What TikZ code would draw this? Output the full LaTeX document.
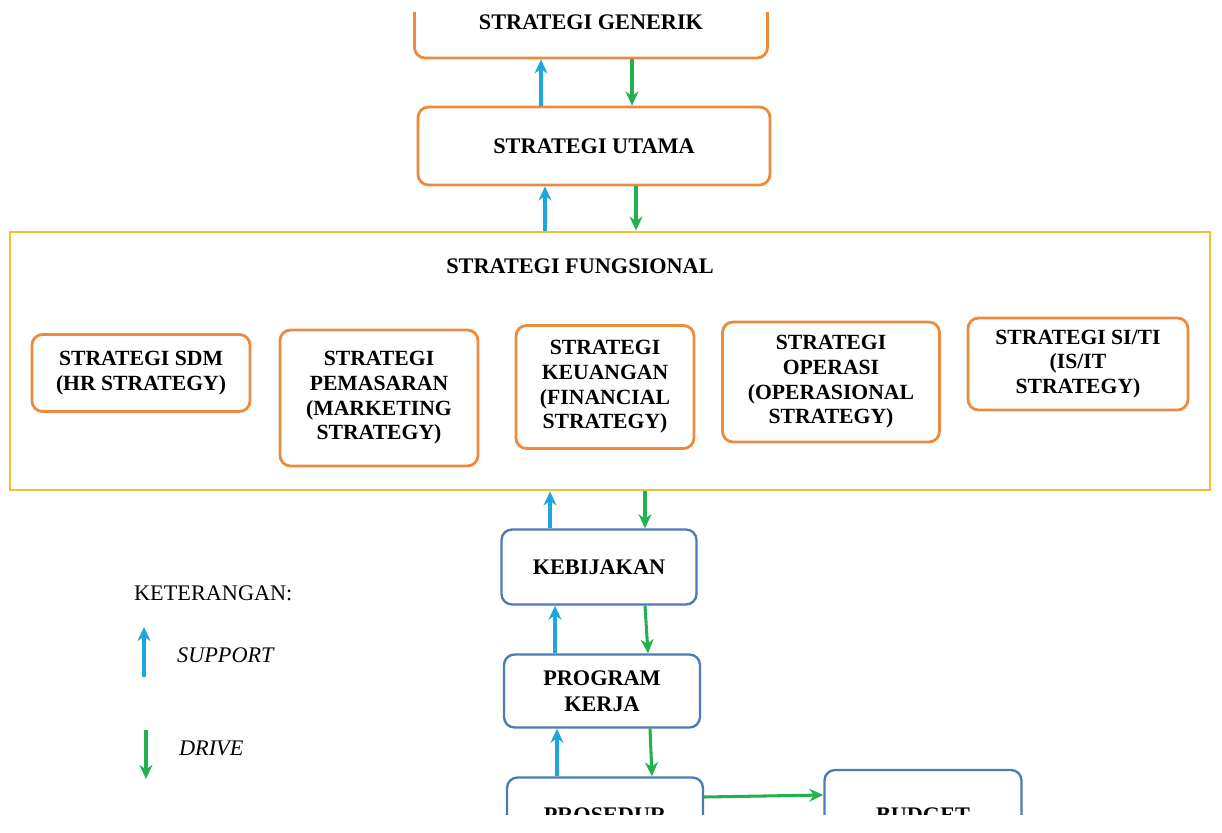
\documentclass[tikz,border=0pt]{standalone}
\usepackage{fontspec}
\setmainfont{Liberation Serif}
\usetikzlibrary{calc,arrows.meta}
\definecolor{supblue}{HTML}{1EA6E0}
\definecolor{drvgreen}{HTML}{22B14C}
\definecolor{boxorange}{HTML}{EE8A3C}
\definecolor{frameyellow}{HTML}{F2C12E}
\definecolor{boxblue}{HTML}{4A7DB5}
\tikzset{
  obox/.style={draw=boxorange,line width=2.4pt,rounded corners=9pt,fill=white,
    align=center,font=\fontsize{19}{22}\selectfont\bfseries,inner sep=2pt},
  fbox/.style={draw=boxorange,line width=2.4pt,rounded corners=9pt,fill=white,
    align=center,font=\fontsize{18.5}{21}\selectfont\bfseries,inner sep=2pt},
  bbox/.style={draw=boxblue,line width=2pt,rounded corners=9pt,fill=white,
    align=center,font=\fontsize{19}{22}\selectfont\bfseries,inner sep=2pt},
  sup/.style={draw=supblue,line width=2.6pt,-{Stealth[length=12pt,width=11pt]}},
  drv/.style={draw=drvgreen,line width=2.6pt,-{Stealth[length=12pt,width=11pt]}},
}
\begin{document}
\begin{tikzpicture}[x=0.03cm,y=-0.03cm]
  \useasboundingbox (0,0) rectangle (1222,832);
  \clip (0,12) rectangle (1222,814);
  % top boxes
  \node[obox,minimum width=353*0.03cm,minimum height=72*0.03cm] (gen) at (591,22) {STRATEGI GENERIK};
  \node[obox,minimum width=352*0.03cm,minimum height=78*0.03cm] (utama) at (594,146) {STRATEGI UTAMA};
  % functional frame
  \node[draw=frameyellow,line width=2.4pt,minimum width=1200*0.03cm,minimum height=258*0.03cm] (fung) at (610,361) {};
  \node[font=\fontsize{19}{22}\selectfont\bfseries] (fungt) at (580,266) {STRATEGI FUNGSIONAL};
  \node[fbox,minimum width=218*0.03cm,minimum height=77*0.03cm] (sdm) at (141,373) {STRATEGI SDM\\(HR STRATEGY)};
  \node[fbox,minimum width=198*0.03cm,minimum height=136*0.03cm] (pem) at (379,398) {STRATEGI\\PEMASARAN\\(MARKETING\\STRATEGY)};
  \node[fbox,minimum width=178*0.03cm,minimum height=123*0.03cm] (keu) at (605,387) {STRATEGI\\KEUANGAN\\(FINANCIAL\\STRATEGY)};
  \node[fbox,minimum width=217*0.03cm,minimum height=120*0.03cm] (ops) at (831,382) {STRATEGI\\OPERASI\\(OPERASIONAL\\STRATEGY)};
  \node[fbox,minimum width=220*0.03cm,minimum height=92*0.03cm] (siti) at (1078,364) {STRATEGI SI/TI\\(IS/IT\\STRATEGY)};
  % lower chain
  \node[bbox,minimum width=195*0.03cm,minimum height=75*0.03cm] (keb) at (599,567) {KEBIJAKAN};
  \node[bbox,minimum width=196*0.03cm,minimum height=73*0.03cm] (prog) at (602,691) {PROGRAM\\KERJA};
  \node[bbox,minimum width=196*0.03cm,minimum height=75*0.03cm] (pros) at (605,815) {PROSEDUR};
  \node[bbox,minimum width=197*0.03cm,minimum height=90*0.03cm] (bud) at (923,815) {BUDGET};
  % support / drive arrows
  \draw[sup] ($(utama.north)+(-53,0)$) -- ($(gen.south)+(-50,0)$);
  \draw[drv] ($(gen.south)+(41,0)$) -- ($(utama.north)+(38,0)$);
  \draw[sup] ($(fung.north)+(-65,0)$) -- ($(utama.south)+(-49,0)$);
  \draw[drv] ($(utama.south)+(42,0)$) -- ($(fung.north)+(26,0)$);
  \draw[sup] ($(keb.north)+(-49,0)$) -- ($(fung.south)+(-60,0)$);
  \draw[drv] ($(fung.south)+(35,0)$) -- ($(keb.north)+(46,0)$);
  \draw[sup] ($(prog.north)+(-47,0)$) -- ($(keb.south)+(-44,0)$);
  \draw[drv] ($(keb.south)+(46,0)$) -- ($(prog.north)+(46,0)$);
  \draw[sup] ($(pros.north)+(-48,0)$) -- ($(prog.south)+(-45,0)$);
  \draw[drv] ($(prog.south)+(48,0)$) -- ($(pros.north)+(47,0)$);
  \draw[drv] ($(pros.east)+(0,-18)$) -- ($(bud.west)+(0,-20)$);
  % legend
  \node[font=\fontsize{19}{22}\selectfont,anchor=west] (ket) at (130,593) {KETERANGAN:};
  \coordinate (s1) at (144,677);
  \coordinate (s2) at (144,627);
  \draw[sup] (s1) -- (s2);
  \node[font=\fontsize{19}{22}\selectfont\itshape,anchor=west] (supt) at (173,655) {SUPPORT};
  \coordinate (d1) at (146,730);
  \coordinate (d2) at (146,779);
  \draw[drv] (d1) -- (d2);
  \node[font=\fontsize{19}{22}\selectfont\itshape,anchor=west] (drvt) at (175,748) {DRIVE};
\end{tikzpicture}
\end{document}
